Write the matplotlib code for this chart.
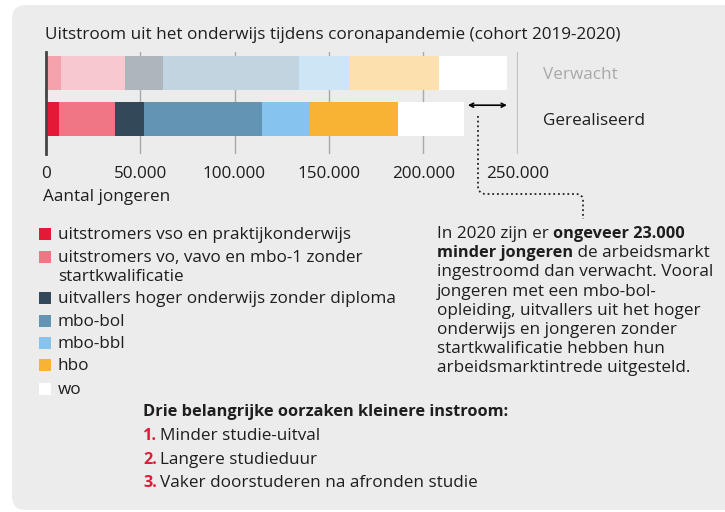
import matplotlib.pyplot as plt
import numpy as np
from matplotlib.patches import FancyBboxPatch, Rectangle, PathPatch
from matplotlib.path import Path
from matplotlib.transforms import IdentityTransform

plt.rcParams['font.family'] = ['Open Sans', 'DejaVu Sans']

# data (aantal jongeren per categorie)
series = ["uitstromers vso en praktijkonderwijs",
          "uitstromers vo, vavo en mbo-1 zonder\nstartkwalificatie",
          "uitvallers hoger onderwijs zonder diploma",
          "mbo-bol", "mbo-bbl", "hbo", "wo"]
verwacht = [8100, 33900, 20100, 72000, 26500, 47700, 36000]
gerealiseerd = [7000, 29700, 15400, 62500, 25400, 46600, 35000]
rows = ["Verwacht", "Gerealiseerd"]
ticks = [0, 50000, 100000, 150000, 200000, 250000]

col_real = ["#e31937", "#f07686", "#33495a", "#6394b4", "#86c4ee", "#f8b234", "#ffffff"]
col_exp = ["#f4a3ad", "#f8c8d0", "#adb5bd", "#c2d4df", "#cde5f4", "#fce0ae", "#ffffff"]

W, H = 725, 512
fig = plt.figure(figsize=(W / 100, H / 100), dpi=100, facecolor="white")

def fx(px):
    return px / W

def fy(py):
    return 1 - py / H

# grey panel
panel = FancyBboxPatch((12, 2), 760, 505, boxstyle="round,pad=0,rounding_size=14",
                       transform=IdentityTransform(), facecolor="#ececec", edgecolor="none",
                       zorder=-10)
fig.patches.append(panel)

# overlay axes for free text
axf = fig.add_axes([0, 0, 1, 1])
axf.set_xlim(0, W)
axf.set_ylim(H, 0)
axf.axis("off")

txt = "#1e1e1e"
fs = 12.3
fsb = 11.8

axf.text(45, 35, "Uitstroom uit het onderwijs tijdens coronapandemie (cohort 2019-2020)",
         fontsize=fs, color=txt, va="center", ha="left")

# main axes: 0..250000 -> px 45.7..517.7, y px 52..154
ax = fig.add_axes([fx(45.7), fy(154), (517.7 - 45.7) / W, 102 / H])
ax.set_facecolor("none")
ax.set_xlim(0, 250000)
ax.set_ylim(1.761, -0.457)

ypos = [0, 1]
for vals, cols, y in [(verwacht, col_exp, 0), (gerealiseerd, col_real, 1)]:
    left = 0
    for v, c in zip(vals, cols):
        ax.barh(y, v, left=left, height=0.74, color=c, edgecolor="none", zorder=2)
        left += v

for t in ticks[1:-1]:
    ax.axvline(t, color="#a9a9a9", lw=1, zorder=1)
ax.axvline(ticks[-1], color="#c2c2c2", lw=1.6, zorder=1)

for s in ["top", "right", "bottom"]:
    ax.spines[s].set_visible(False)
ax.spines["left"].set_color("#444444")
ax.spines["left"].set_linewidth(2)
ax.spines["left"].set_zorder(3)
ax.set_yticks([])
ax.set_xticks(ticks)
ax.set_xticklabels([f"{t:,}".replace(",", ".") for t in ticks], fontsize=fs, color=txt)
ax.tick_params(axis="x", length=0, pad=9)

for y, lab, c in zip(ypos, rows, ["#a8a8a8", txt]):
    ax.text(263500, y + 0.05, lab, fontsize=fs, color=c, va="center", ha="left", clip_on=False)

# difference arrow
tot_r = sum(gerealiseerd)
tot_e = sum(verwacht)
ax.annotate("", xy=(tot_e, 0.70), xytext=(tot_r + 2000, 0.70),
            arrowprops=dict(arrowstyle="<->", color="black", lw=1.2,
                            shrinkA=0, shrinkB=0, mutation_scale=7))

axf.text(43, 197, "Aantal jongeren", fontsize=fs, color=txt, va="center", ha="left")

# dotted connector (figure pixels)
verts = [(478, 116), (478, 186), (478, 194), (486, 194), (576, 194), (583, 194), (583, 201), (583, 219)]
codes = [Path.MOVETO, Path.LINETO, Path.CURVE3, Path.CURVE3, Path.LINETO, Path.CURVE3, Path.CURVE3, Path.LINETO]
axf.add_patch(PathPatch(Path(verts, codes), fill=False, edgecolor="#222222",
                        lw=1.3, linestyle=(0, (1, 1.6))))

# annotation text
lines = [
    [("In 2020 zijn er ", "normal"), ("ongeveer 23.000", "bold")],
    [("minder jongeren", "bold"), (" de arbeidsmarkt", "normal")],
    [("ingestroomd dan verwacht. Vooral", "normal")],
    [("jongeren met een mbo-bol-", "normal")],
    [("opleiding, uitvallers uit het hoger", "normal")],
    [("onderwijs en jongeren zonder", "normal")],
    [("startkwalificatie hebben hun", "normal")],
    [("arbeidsmarktintrede uitgesteld.", "normal")],
]
for i, parts in enumerate(lines):
    y = 234 + i * 19.2
    s0, w0 = parts[0]
    prev = axf.text(437, y, s0, fontsize=fsb if w0 == "bold" else fs, fontweight=w0,
                    color=txt, va="center", ha="left")
    for s, w in parts[1:]:
        prev = axf.annotate(s, xy=(1, 0.5), xycoords=prev, fontsize=fsb if w == "bold" else fs,
                            fontweight=w, color=txt, va="center", ha="left")

# legend
leg_y = [234, 257, 298, 321, 343, 365, 389]
for lab, c, y in zip(series, col_real, leg_y):
    axf.add_patch(Rectangle((39, y - 6), 12, 12, facecolor=c, edgecolor="none"))
    for k, part in enumerate(lab.split("\n")):
        axf.text(58, y + 1 + k * 19, part, fontsize=fs, color=txt, va="center", ha="left")

# causes
axf.text(143, 412, "Drie belangrijke oorzaken kleinere instroom:", fontsize=fsb,
         fontweight="bold", color=txt, va="center", ha="left")
oorzaken = ["Minder studie-uitval", "Langere studieduur", "Vaker doorstuderen na afronden studie"]
for i, s in enumerate(oorzaken):
    y = 436 + i * 23.5
    axf.text(143, y, f"{i + 1}.", fontsize=fsb, fontweight="bold", color="#e31937",
             va="center", ha="left")
    axf.text(160, y, s, fontsize=fs, color=txt, va="center", ha="left")

fig.savefig("out.png", dpi=100, facecolor="white")
